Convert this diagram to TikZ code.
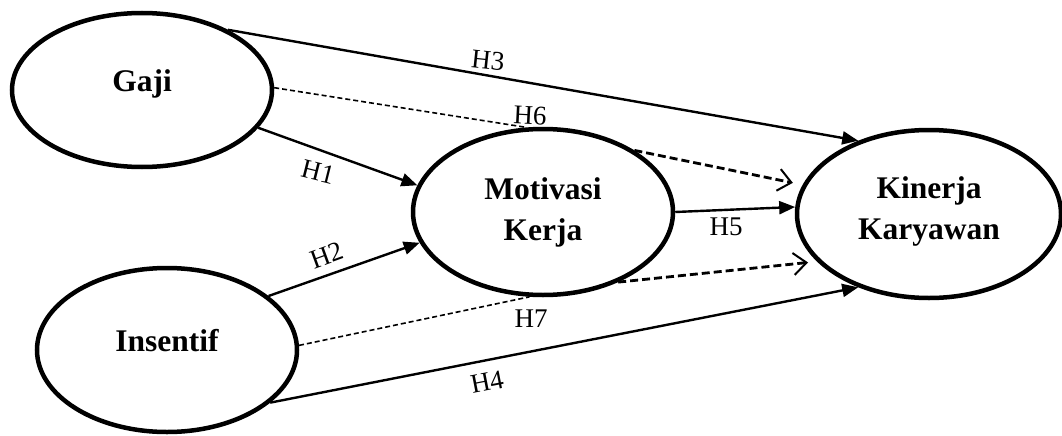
\documentclass[tikz,border=0pt]{standalone}
\usepackage{fontspec}
\setmainfont{Liberation Serif}
\usetikzlibrary{shapes.geometric,arrows.meta}
\tikzset{
  latent/.style={ellipse, draw=black, line width=4.5pt, fill=white, inner sep=0pt,
    align=center, font=\fontsize{31.5}{41}\selectfont\bfseries},
  solidpath/.style={line width=2.4pt, -{Triangle[length=16pt,width=13pt]}},
  thinpath/.style={line width=1.6pt, dash pattern=on 5pt off 3pt},
  thickpath/.style={line width=2.8pt, dash pattern=on 8pt off 4pt, -{Straight Barb[length=13pt,width=22pt,line width=2pt]}},
  hlabel/.style={font=\fontsize{27}{27}\selectfont, inner sep=0pt}
}
\begin{document}
\begin{tikzpicture}[x=1pt,y=-1pt]
\useasboundingbox (0,0) rectangle (1062,436);
\node[latent, minimum width=260pt, minimum height=154pt, text depth=18pt] (gaji) at (142,90) {Gaji};
\node[latent, minimum width=260pt, minimum height=164pt, text depth=20pt] (ins) at (167,350) {Insentif};
\node[latent, minimum width=260pt, minimum height=166pt] (mot) at (543,212) {Motivasi\\Kerja};
\node[latent, minimum width=264pt, minimum height=168pt, text depth=12pt] (kin) at (929,214) {Kinerja\\Karyawan};

% H6 and H7 indirect (dashed)
\draw[thinpath] (gaji.1) -- (mot.101);
\draw[thickpath, shorten >=10pt] (mot.34) -- (kin.167);
\draw[thinpath] (ins.2) -- (mot.261);
\draw[thickpath, shorten >=9pt] (mot.-43) -- (kin.203);

% direct paths
\draw[solidpath] (gaji.35) -- (kin.134);
\draw[solidpath] (gaji.-18) -- (mot.168);
\draw[solidpath] (ins.28) -- (mot.194);
\draw[solidpath] (mot.0) -- (kin.177);
\draw[solidpath] (ins.-27) -- (kin.226);

% labels
\node[hlabel, rotate=-6] (h3) at (488,60) {H3};
\node[hlabel, rotate=-3] (h6) at (530,116) {H6};
\node[hlabel, rotate=-14] (h1) at (318,172) {H1};
\node[hlabel, rotate=20] (h2) at (327,255) {H2};
\node[hlabel] (h5) at (726,227) {H5};
\node[hlabel] (h7) at (531,319) {H7};
\node[hlabel, rotate=11] (h4) at (487,382) {H4};
\end{tikzpicture}
\end{document}
